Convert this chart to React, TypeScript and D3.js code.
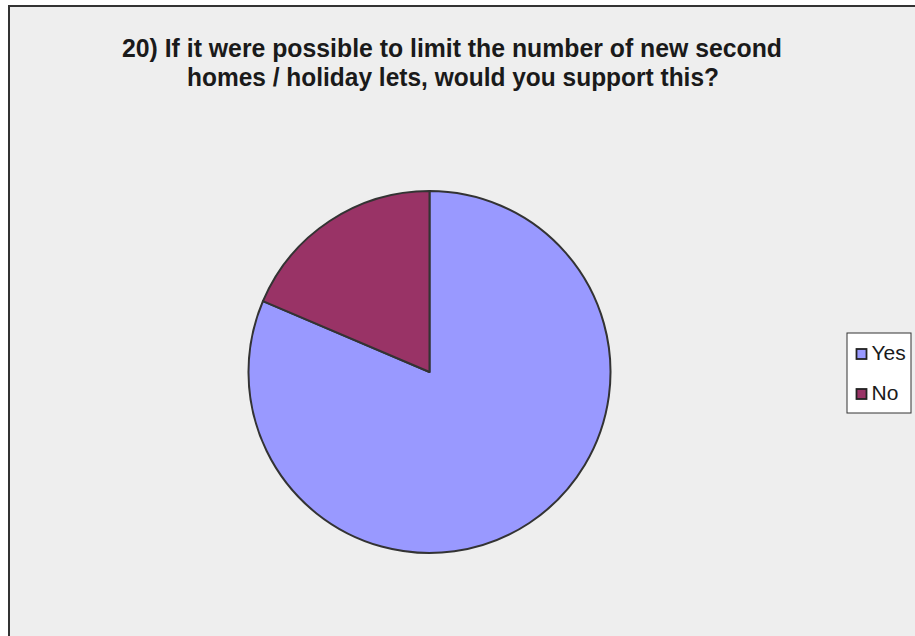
import React from "react";
import * as d3 from "d3";

const categories = ["Yes", "No"];
const values = [81.4, 18.6];
const colors = ["#9999FF", "#993366"];
const titleLines = [
  "20) If it were possible to limit the number of new second",
  "homes / holiday lets, would you support this?",
];

export default function App() {
  const W = 915;
  const H = 636;
  const cx = 429.5;
  const cy = 372;
  const r = 181;
  const pie = d3
    .pie<number>()
    .sort(null)
    .value((d) => d);
  const arcs = pie(values);
  const arc = d3.arc<d3.PieArcDatum<number>>().innerRadius(0).outerRadius(r);
  const color = d3.scaleOrdinal<string, string>().domain(categories).range(colors);
  const legendY = d3.scalePoint<string>().domain(categories).range([360, 400]);

  return (
    <svg
      width={W}
      height={H}
      style={{ position: "fixed", left: 0, top: 0, display: "block" }}
      fontFamily="'Liberation Sans', Arial, sans-serif"
    >
      <rect x={0} y={0} width={W} height={H} fill="#ffffff" />
      <rect x={9} y={6} width={W + 20} height={H + 20} fill="#eeeeee" stroke="#333333" strokeWidth={2} />
      <text
        x={122}
        y={57}
        fontSize={25.5}
        fontWeight="bold"
        fill="#1a1a1a"
        textLength={660}
        lengthAdjust="spacingAndGlyphs"
      >
        {titleLines[0]}
      </text>
      <text
        x={187}
        y={85.5}
        fontSize={25.5}
        fontWeight="bold"
        fill="#1a1a1a"
        textLength={532}
        lengthAdjust="spacingAndGlyphs"
      >
        {titleLines[1]}
      </text>
      <g transform={`translate(${cx},${cy})`}>
        {arcs.map((a, i) => (
          <path
            key={categories[i]}
            d={arc(a) || ""}
            fill={color(categories[i])}
            stroke="#333333"
            strokeWidth={2}
            strokeLinejoin="round"
          />
        ))}
      </g>
      <rect x={847} y={333} width={64} height={80} fill="#ffffff" stroke="#333333" strokeWidth={1} />
      {categories.map((c) => {
        const y = legendY(c) as number;
        return (
          <g key={c}>
            <rect x={856.5} y={y - 11} width={10} height={10} fill={color(c)} stroke="#222222" strokeWidth={1.8} />
            <text x={871.5} y={y} fontSize={21} fill="#1a1a1a">
              {c}
            </text>
          </g>
        );
      })}
    </svg>
  );
}
